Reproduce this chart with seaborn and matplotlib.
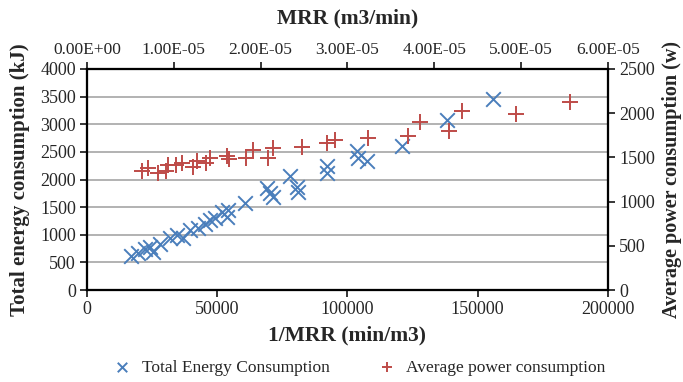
import numpy as np
import pandas as pd
import matplotlib
matplotlib.use("Agg")
import matplotlib.pyplot as plt
import seaborn as sb
from matplotlib.ticker import FuncFormatter, MultipleLocator

# data
inv_mrr_energy = [16890, 19580, 22270, 24190, 25340, 28030, 31860, 34550, 36850, 39540,
                  42610, 45300, 47220, 49140, 51830, 53750, 54130, 60660, 69100, 70250,
                  71400, 77930, 80620, 81000, 92140, 92140, 103650, 104040, 107490, 120930,
                  138200, 155860]
energy_kj = [615, 670, 742, 778, 688, 833, 941, 996, 941, 1086,
             1122, 1195, 1267, 1303, 1412, 1321, 1448, 1575, 1846, 1756,
             1683, 2063, 1870, 1774, 2244, 2118, 2516, 2389, 2335, 2606,
             3077, 3457]

inv_mrr_power = [21000, 23530, 27370, 30330, 31210, 34170, 36360, 40810, 42110, 45680,
                 47220, 53630, 54510, 61040, 63840, 69600, 71520, 82430, 92330, 95210,
                 107990, 123350, 127840, 138970, 143850, 164690, 185420]
power_w = [1346, 1376, 1329, 1346, 1414, 1419, 1433, 1395, 1459, 1442,
           1490, 1516, 1482, 1490, 1583, 1490, 1603, 1617, 1668, 1697,
           1721, 1742, 1903, 1798, 2025, 1991, 2123]

energy_df = pd.DataFrame({'inv_mrr': inv_mrr_energy, 'energy': energy_kj})
power_df = pd.DataFrame({'inv_mrr': inv_mrr_power, 'power': power_w})

sb.set_style('ticks')
plt.rcParams['font.family'] = ['Liberation Serif', 'DejaVu Serif']
plt.rcParams['font.size'] = 13

fig = plt.figure(figsize=(6.83, 3.82), dpi=100)
ax = fig.add_axes([0.1274, 0.2408, 0.7626, 0.5786])
ax2 = ax.twinx()
ax_top = ax.twiny()

blue = '#4a7ebb'
red = '#be4b48'

sb.scatterplot(x='inv_mrr', y='energy', data=energy_df, ax=ax, marker='x', s=110,
               color=blue, linewidth=1.4, label='Total Energy Consumption', legend=False, zorder=3)
sb.scatterplot(x='inv_mrr', y='power', data=power_df, ax=ax2, marker='+', s=120,
               color=red, linewidth=1.4, label='Average power consumption', legend=False, zorder=3)

ax.set_xlim(0, 200000)
ax.set_ylim(0, 4000)
ax2.set_ylim(0, 2500)
ax_top.set_xlim(0, 6e-5)

ax.xaxis.set_major_locator(MultipleLocator(50000))
ax.yaxis.set_major_locator(MultipleLocator(500))
ax2.yaxis.set_major_locator(MultipleLocator(500))
ax_top.xaxis.set_major_locator(MultipleLocator(1e-5))
ax_top.xaxis.set_major_formatter(FuncFormatter(lambda v, p: '{:.2E}'.format(v).replace('-00', '+00')))

ax.grid(axis='y', color='#a6a6a6', linewidth=1.2)
ax.set_axisbelow(True)

for a in (ax, ax2, ax_top):
    for s in a.spines.values():
        s.set_linewidth(1.5)
        s.set_color('black')
    a.tick_params(width=1.3, length=5, labelsize=13, direction='out', pad=3)
ax_top.tick_params(labelsize=12.5)

ax.set_xlabel('1/MRR (min/m3)', fontsize=15.5, fontweight='bold', labelpad=5)
ax.set_ylabel('Total energy consumption (kJ)', fontsize=15, fontweight='bold', labelpad=7)
ax2.set_ylabel('Average power consumption (w)', fontsize=14.5, fontweight='bold', labelpad=5)
ax_top.set_xlabel('MRR (m3/min)', fontsize=15.5, fontweight='bold', labelpad=13)

h1, l1 = ax.get_legend_handles_labels()
h2, l2 = ax2.get_legend_handles_labels()
fig.legend(h1 + h2, l1 + l2, loc='center', ncol=2, frameon=False,
           bbox_to_anchor=(0.52, 0.037), fontsize=12.5, columnspacing=2.3,
           handletextpad=0.1, markerscale=0.65)

plt.savefig('out.png', dpi=100)
